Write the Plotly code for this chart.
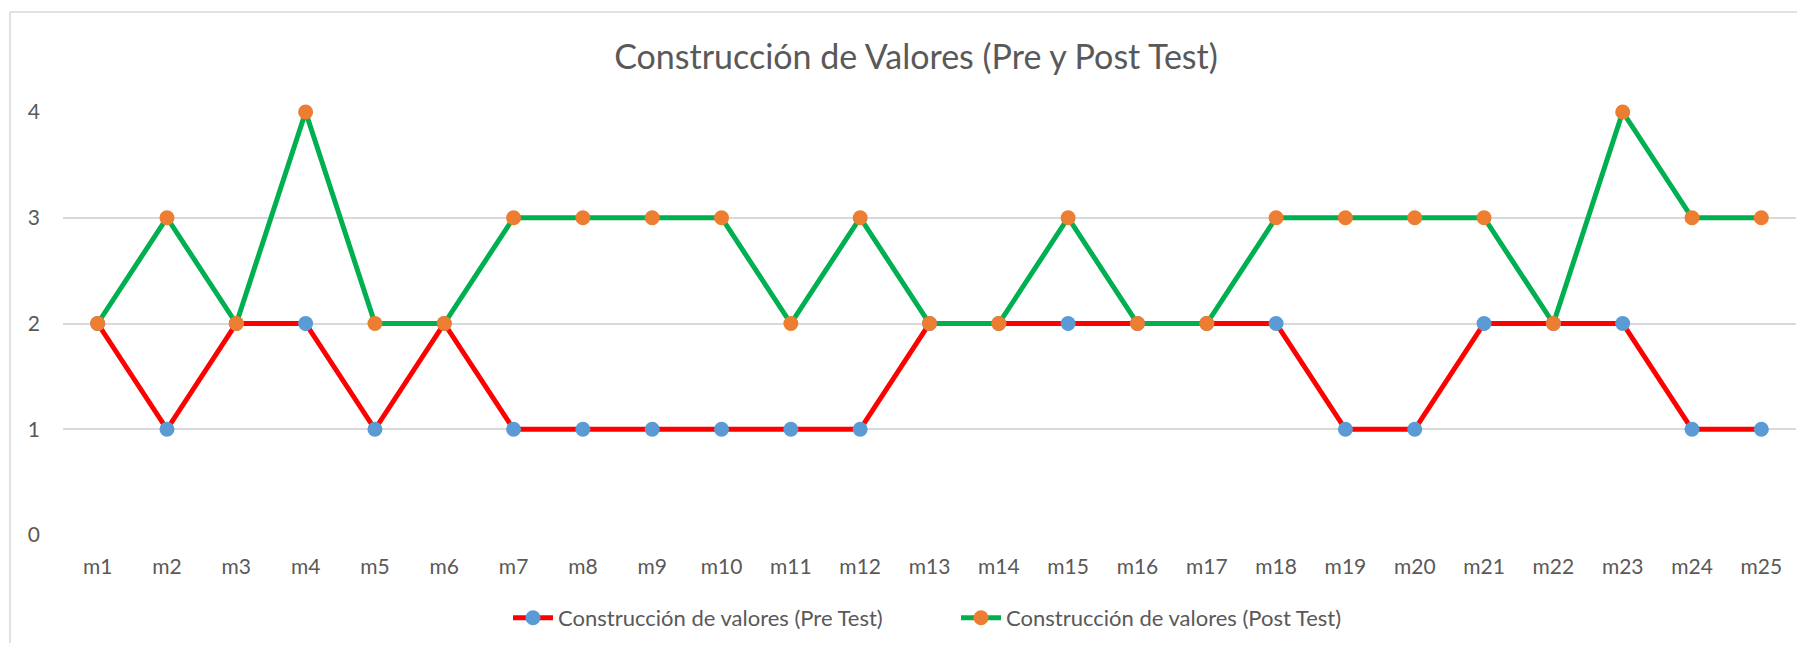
import plotly.graph_objects as go

categories = [f"m{i}" for i in range(1, 26)]
pre_test = [2, 1, 2, 2, 1, 2, 1, 1, 1, 1, 1, 1, 2, 2, 2, 2, 2, 2, 1, 1, 2, 2, 2, 1, 1]
post_test = [2, 3, 2, 4, 2, 2, 3, 3, 3, 3, 2, 3, 2, 2, 3, 2, 2, 3, 3, 3, 3, 2, 4, 3, 3]
y_ticks = [0, 1, 2, 3, 4]

FONT = "Lato"
GRAY = "#595959"

fig = go.Figure()
fig.add_trace(go.Scatter(
    x=categories, y=pre_test, mode="lines+markers",
    name="Construcción de valores (Pre Test)",
    line=dict(color="#ff0000", width=5),
    marker=dict(color="#5b9bd5", size=15),
    cliponaxis=False,
))
fig.add_trace(go.Scatter(
    x=categories, y=post_test, mode="lines+markers",
    name="Construcción de valores (Post Test)",
    line=dict(color="#00b050", width=5),
    marker=dict(color="#ed7d31", size=15),
    cliponaxis=False,
))

OFF = 8  # page body margin offset
W, H = 1805 - 2 * OFF, 651 - 2 * OFF
L, R, T, B = 63 - OFF, 1796 - OFF, 112 - OFF, 535 - OFF
pw, ph = R - L, B - T

def px(x):
    return (x - OFF - L) / pw

def py(y):
    return (B - (y - OFF)) / ph

fig.update_layout(
    width=W, height=H,
    margin=dict(l=L, r=W - R, t=T, b=H - B, autoexpand=False),
    paper_bgcolor="white", plot_bgcolor="white",
    font=dict(family=FONT, color=GRAY, size=21),
    title=dict(
        text="Construcción de Valores (Pre y Post Test)",
        x=px(916), xref="paper", xanchor="center",
        y=1 - (57 - OFF) / H, yref="container", yanchor="middle",
        font=dict(family=FONT, size=34, color=GRAY),
    ),
    showlegend=True,
    legend=dict(
        orientation="h", x=px(956), xanchor="center",
        y=py(618), yanchor="middle",
        font=dict(family=FONT, size=22, color=GRAY),
        itemwidth=40, entrywidth=393, bgcolor="rgba(0,0,0,0)",
    ),
    xaxis=dict(
        type="category", showgrid=False, zeroline=False, showline=False,
        ticks="", tickfont=dict(size=21, color=GRAY), ticklabelstandoff=17,
        range=[-0.5, len(categories) - 0.5],
    ),
    yaxis=dict(
        range=[0, 4], tickvals=y_ticks, showgrid=True, gridcolor="#d9d9d9",
        gridwidth=1.5, zeroline=False, showline=False, ticks="",
        tickfont=dict(size=21, color=GRAY), ticklabelstandoff=22,
    ),
    shapes=[
        dict(type="line", xref="paper", yref="paper",
             x0=px(10), x1=px(10), y0=py(12), y1=py(700),
             line=dict(color="#d9d9d9", width=1.5)),
        dict(type="line", xref="paper", yref="paper",
             x0=px(10), x1=px(1900), y0=py(12), y1=py(12),
             line=dict(color="#d9d9d9", width=1.5)),
    ],
)

fig.write_html("out.html")
